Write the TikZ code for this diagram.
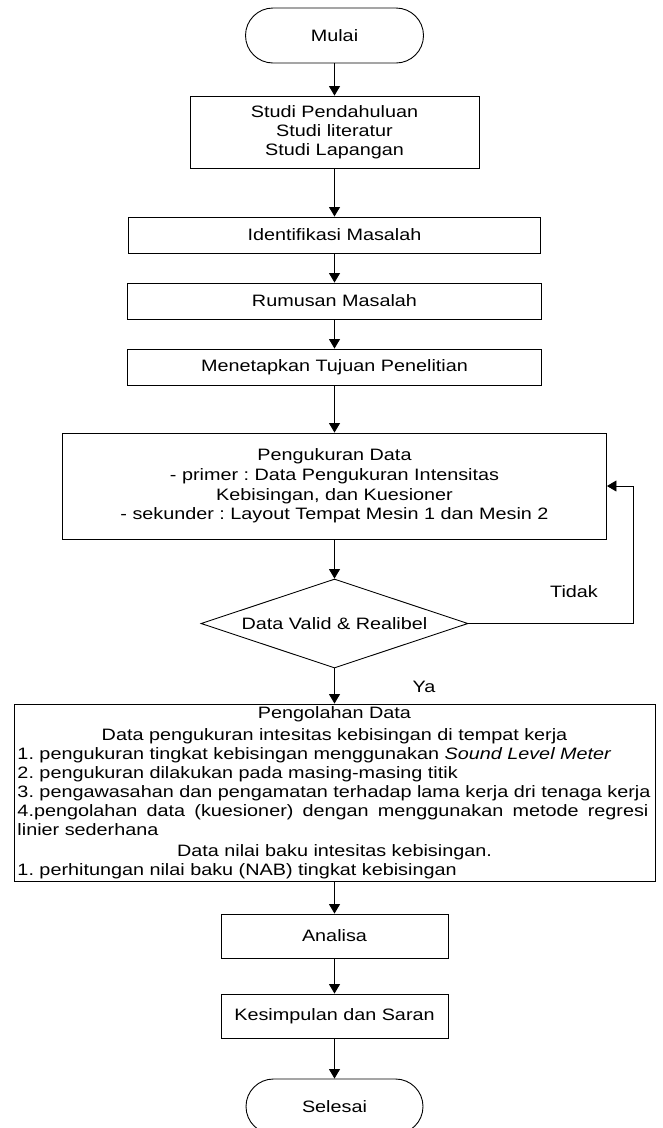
\documentclass[tikz,border=0pt]{standalone}
\usepackage{fontspec}
\setmainfont{Liberation Sans}[FakeStretch=1.2]
\usetikzlibrary{arrows.meta,shapes.geometric}
\begin{document}
\frenchspacing
\begin{tikzpicture}[x=1pt,y=-1pt,
  every node/.style={font=\fontsize{16.5pt}{19pt}\selectfont},
  box/.style={draw, line width=0.9pt, inner sep=0pt, align=center},
  term/.style={box, rounded corners=27.5pt},
  conn/.style={line width=0.9pt, -{Triangle[width=11pt,length=9.5pt]}}]
\useasboundingbox (0,0) rectangle (663,1128);
\fill[white] (0,0) rectangle (663,1128);

\node[term, minimum width=178pt, minimum height=55pt] (mulai) at (334.5,35.5) {Mulai};
\node[box, minimum width=289pt, minimum height=72pt] (studi) at (334.5,132) {Studi Pendahuluan\\Studi literatur\\Studi Lapangan};
\node[box, minimum width=412pt, minimum height=36pt] (ident) at (334.5,235) {Identifikasi Masalah};
\node[box, minimum width=414pt, minimum height=36pt] (rumus) at (334.5,301) {Rumusan Masalah};
\node[box, minimum width=414pt, minimum height=36pt] (tujuan) at (334.5,367) {Menetapkan Tujuan Penelitian};
\node[box, minimum width=544pt, minimum height=106pt, font=\fontsize{16.5pt}{19.7pt}\selectfont] (ukur) at (334.5,486) {Pengukuran Data\\- primer : Data Pengukuran Intensitas\\Kebisingan, dan Kuesioner\\- sekunder : Layout Tempat Mesin 1 dan Mesin 2};
\node[draw, diamond, aspect=3, inner sep=0pt, line width=0.9pt, minimum width=267pt, minimum height=89pt] (dv) at (334.5,623.5) {Data Valid \& Realibel};
\node[box, align=left, text width=634pt, inner xsep=3.5pt, minimum height=177pt] (olah) at (334.5,792.5) {%
\makebox[634pt]{Pengolahan Data}\\[3pt]
\makebox[634pt]{Data pengukuran intesitas kebisingan di tempat kerja}\\
1. pengukuran tingkat kebisingan menggunakan \textit{Sound Level Meter}\\
2. pengukuran dilakukan pada masing-masing titik\\
3. pengawasahan dan pengamatan terhadap lama kerja dri tenaga kerja\\
\makebox[631pt][l]{4.pengolahan\hfill data\hfill (kuesioner)\hfill dengan\hfill menggunakan\hfill metode\hfill regresi}\\
linier sederhana\\[2pt]
\makebox[634pt]{Data nilai baku intesitas kebisingan.}\\
1. perhitungan nilai baku (NAB) tingkat kebisingan};
\node[box, minimum width=227pt, minimum height=44pt] (anal) at (334.5,936) {Analisa};
\node[box, minimum width=227pt, minimum height=44pt] (simp) at (334.5,1016) {Kesimpulan dan Saran};
\node[term, minimum width=177pt, minimum height=55pt] (selesai) at (334.5,1106.5) {Selesai};

\node (tidak) at (574,592) {Tidak};
\node (ya) at (424,687) {Ya};
\coordinate (lp) at (633,623.5);

\draw[conn] (mulai) -- (studi);
\draw[conn] (studi) -- (ident);
\draw[conn] (ident) -- (rumus);
\draw[conn] (rumus) -- (tujuan);
\draw[conn] (tujuan) -- (ukur);
\draw[conn] (ukur) -- (dv);
\draw[conn] (dv) -- (olah);
\draw[conn] (dv.east) -- (lp) |- (ukur.east);
\draw[conn] (olah) -- (anal);
\draw[conn] (anal) -- (simp);
\draw[conn] (simp) -- (selesai);
\end{tikzpicture}
\end{document}
